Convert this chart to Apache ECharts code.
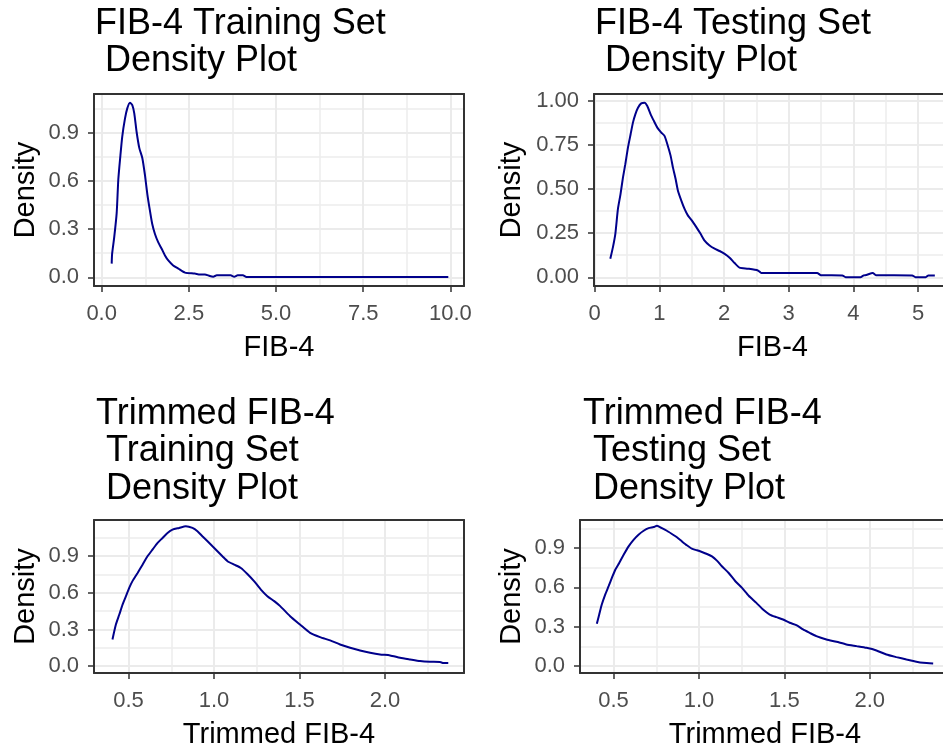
<!DOCTYPE html>
<html>
<head>
<meta charset="utf-8">
<script src="https://cdn.jsdelivr.net/npm/echarts@6/dist/echarts.min.js"></script>
<style>
html,body{margin:0;padding:0;background:#fff;}
#chart{width:943px;height:753px;}
</style>
</head>
<body>
<div id="chart"></div>
<script>
// ---- Panel 1: FIB-4 training set ----
const p1X = [0.287,0.30,0.36,0.43,0.477,0.535,0.59,0.668,0.734,0.81,0.878,0.935,1.0,1.08,1.165,1.24,1.31,1.385,1.45,1.528,1.62,1.72,1.815,1.91,2.05,2.2,2.39,2.67,2.82,2.96,3.1,3.2,3.3,3.7,3.8,3.9,4.05,4.15,5.0,6.0,7.0,8.0,9.0,9.94];
const p1Y = [0.085,0.147,0.25,0.40,0.61,0.755,0.878,0.99,1.054,1.09,1.074,1.023,0.91,0.806,0.745,0.64,0.518,0.414,0.332,0.27,0.219,0.178,0.136,0.105,0.074,0.054,0.029,0.023,0.017,0.018,0.008,0.004,0.012,0.012,0.003,0.012,0.012,0.002,0.001,0.001,0.001,0.001,0.001,0.001];
const p1XTicks = [0, 2.5, 5, 7.5, 10];
const p1YTicks = [0, 0.3, 0.6, 0.9];
const p1XRange = [-0.22, 10.39];
const p1YRange = [-0.0545, 1.144];

// ---- Panel 2: FIB-4 testing set ----
const p2X = [0.242,0.283,0.32,0.36,0.40,0.438,0.474,0.515,0.556,0.592,0.629,0.67,0.72,0.773,0.814,0.866,0.917,0.969,1.03,1.08,1.124,1.175,1.21,1.252,1.288,1.34,1.39,1.443,1.504,1.572,1.638,1.70,1.777,1.855,1.932,2.01,2.087,2.164,2.24,2.37,2.524,2.577,2.94,3.44,3.5,3.83,3.88,4.11,4.16,4.2,4.3,4.35,4.91,4.96,5.12,5.16,5.26];
const p2Y = [0.105,0.171,0.246,0.387,0.471,0.565,0.64,0.734,0.809,0.875,0.922,0.959,0.984,0.988,0.969,0.922,0.884,0.847,0.819,0.80,0.753,0.687,0.622,0.556,0.49,0.434,0.387,0.349,0.321,0.284,0.246,0.208,0.18,0.162,0.149,0.133,0.111,0.081,0.055,0.049,0.039,0.025,0.025,0.025,0.012,0.011,0.001,0.001,0.011,0.013,0.025,0.012,0.011,0.001,0.001,0.011,0.011];
const p2XTicks = [0, 1, 2, 3, 4, 5];
const p2YTicks = [0, 0.25, 0.5, 0.75, 1];
const p2XRange = [-0.01, 5.51];
const p2YRange = [-0.049, 1.037];

// ---- Panel 3: trimmed FIB-4 training set ----
const p3X = [0.406,0.426,0.446,0.465,0.485,0.504,0.523,0.553,0.582,0.611,0.64,0.67,0.699,0.728,0.757,0.796,0.835,0.874,0.903,0.932,0.962,0.991,1.02,1.049,1.079,1.118,1.157,1.195,1.234,1.274,1.312,1.352,1.387,1.445,1.503,1.562,1.62,1.679,1.737,1.796,1.854,1.913,1.971,2.03,2.088,2.147,2.205,2.263,2.322,2.341,2.37];
const p3Y = [0.218,0.34,0.422,0.504,0.573,0.641,0.696,0.763,0.831,0.90,0.954,1.009,1.05,1.091,1.118,1.132,1.146,1.132,1.105,1.064,1.023,0.982,0.941,0.90,0.859,0.831,0.804,0.755,0.696,0.627,0.573,0.532,0.491,0.409,0.34,0.272,0.237,0.21,0.177,0.15,0.128,0.109,0.095,0.087,0.068,0.054,0.041,0.035,0.033,0.024,0.024];
const p3XTicks = [0.5, 1.0, 1.5, 2.0];
const p3YTicks = [0, 0.3, 0.6, 0.9];
const p3XRange = [0.298, 2.462];
const p3YRange = [-0.057, 1.197];

// ---- Panel 4: trimmed FIB-4 testing set ----
const p4X = [0.402,0.416,0.431,0.451,0.471,0.49,0.51,0.533,0.559,0.588,0.617,0.646,0.676,0.705,0.734,0.754,0.783,0.812,0.842,0.871,0.9,0.929,0.958,0.988,1.017,1.047,1.076,1.105,1.134,1.174,1.213,1.252,1.291,1.336,1.375,1.414,1.453,1.492,1.531,1.57,1.609,1.648,1.687,1.746,1.805,1.863,1.922,1.98,2.039,2.097,2.156,2.215,2.273,2.312,2.371];
const p4Y = [0.322,0.393,0.469,0.545,0.609,0.672,0.735,0.786,0.849,0.913,0.963,1.002,1.032,1.052,1.06,1.07,1.052,1.032,1.007,0.982,0.951,0.921,0.895,0.883,0.87,0.855,0.837,0.804,0.761,0.71,0.647,0.596,0.536,0.482,0.431,0.393,0.373,0.355,0.33,0.312,0.279,0.253,0.228,0.203,0.185,0.165,0.152,0.139,0.119,0.088,0.068,0.05,0.033,0.025,0.02];
const p4XTicks = [0.5, 1.0, 1.5, 2.0];
const p4YTicks = [0, 0.3, 0.6, 0.9];
const p4XRange = [0.3035, 2.4695];
const p4YRange = [-0.053, 1.114];

const titles = [
  'FIB-4 Training Set\n Density Plot',
  'FIB-4 Testing Set\n Density Plot',
  'Trimmed FIB-4\n Training Set\n Density Plot',
  'Trimmed FIB-4\n Testing Set\n Density Plot'
];
const xNames = ['FIB-4', 'FIB-4', 'Trimmed FIB-4', 'Trimmed FIB-4'];
const yName = 'Density';

const FONT = '"Liberation Sans", Arial, Helvetica, sans-serif';

function minors(ticks) {
  const out = [];
  const step = ticks[1] - ticks[0];
  out.push(ticks[0] - step / 2);
  for (let i = 0; i < ticks.length; i++) out.push(ticks[i] + step / 2);
  return out;
}

const panels = [
  {x: p1X, y: p1Y, xt: p1XTicks, yt: p1YTicks, xr: p1XRange, yr: p1YRange, xd: 1, yd: 1,
   grid: {left: 94, top: 94, width: 370, height: 192}, title: {left: 95, top: 5}, yGap: 53.5},
  {x: p2X, y: p2Y, xt: p2XTicks, yt: p2YTicks, xr: p2XRange, yr: p2YRange, xd: 0, yd: 2,
   grid: {left: 594, top: 94, width: 357, height: 192}, title: {left: 595, top: 5}, yGap: 67.5},
  {x: p3X, y: p3Y, xt: p3XTicks, yt: p3YTicks, xr: p3XRange, yr: p3YRange, xd: 1, yd: 1,
   grid: {left: 94, top: 520, width: 370, height: 153}, title: {left: 96, top: 395}, yGap: 53.5},
  {x: p4X, y: p4Y, xt: p4XTicks, yt: p4YTicks, xr: p4XRange, yr: p4YRange, xd: 1, yd: 1,
   grid: {left: 580, top: 520, width: 370, height: 153}, title: {left: 583, top: 395}, yGap: 54}
];

const borderLine = {show: true, onZero: false, lineStyle: {color: '#333333', width: 2}};
const option = {
  animation: false,
  backgroundColor: '#ffffff',
  title: [], grid: [], xAxis: [], yAxis: [], series: []
};

panels.forEach((p, i) => {
  option.grid.push(Object.assign({show: false, outerBoundsMode: 'none', containLabel: false}, p.grid));
  option.title.push({
    text: titles[i], left: p.title.left, top: p.title.top, padding: 0,
    textStyle: {fontFamily: FONT, fontSize: 36, fontWeight: 'normal', color: '#000', lineHeight: 37.5}
  });
  const xf = v => Number(v).toFixed(p.xd);
  const yf = v => Number(v).toFixed(p.yd);
  option.xAxis.push({
    type: 'value', gridIndex: i, position: 'bottom', min: p.xr[0], max: p.xr[1],
    name: xNames[i], nameLocation: 'middle', nameGap: 47,
    nameTextStyle: {fontFamily: FONT, fontSize: 29, color: '#000'},
    axisLine: borderLine,
    axisTick: {show: true, length: 6, lineStyle: {color: '#333333', width: 1.5}, customValues: p.xt},
    axisLabel: {customValues: p.xt, formatter: xf, color: '#4D4D4D', fontFamily: FONT, fontSize: 22, margin: 17},
    splitLine: {show: true, lineStyle: {color: '#EBEBEB', width: 2}}
  });
  option.xAxis.push({
    type: 'value', gridIndex: i, position: 'top', min: p.xr[0], max: p.xr[1],
    axisLine: borderLine,
    axisTick: {show: false, customValues: minors(p.xt)},
    axisLabel: {show: false, customValues: minors(p.xt)},
    splitLine: {show: true, lineStyle: {color: '#EDEDED', width: 1.5}}
  });
  option.yAxis.push({
    type: 'value', gridIndex: i, position: 'left', min: p.yr[0], max: p.yr[1],
    name: yName, nameLocation: 'middle', nameGap: p.yGap,
    nameTextStyle: {fontFamily: FONT, fontSize: 29, color: '#000'},
    axisLine: borderLine,
    axisTick: {show: true, length: 6, lineStyle: {color: '#333333', width: 1.5}, customValues: p.yt},
    axisLabel: {customValues: p.yt, formatter: yf, color: '#4D4D4D', fontFamily: FONT, fontSize: 22, margin: 15},
    splitLine: {show: true, lineStyle: {color: '#EBEBEB', width: 2}}
  });
  option.yAxis.push({
    type: 'value', gridIndex: i, position: 'right', min: p.yr[0], max: p.yr[1],
    axisLine: borderLine,
    axisTick: {show: false, customValues: minors(p.yt)},
    axisLabel: {show: false, customValues: minors(p.yt)},
    splitLine: {show: true, lineStyle: {color: '#EDEDED', width: 1.5}}
  });
  option.series.push({
    type: 'line', xAxisIndex: 2 * i, yAxisIndex: 2 * i,
    data: p.x.map((v, k) => [v, p.y[k]]),
    symbol: 'none', showSymbol: false, smooth: 0.2,
    lineStyle: {color: '#00008B', width: 2}, z: 5
  });
});

const chart = echarts.init(document.getElementById('chart'), null, {renderer: 'canvas'});
chart.setOption(option);
</script>
</body>
</html>
